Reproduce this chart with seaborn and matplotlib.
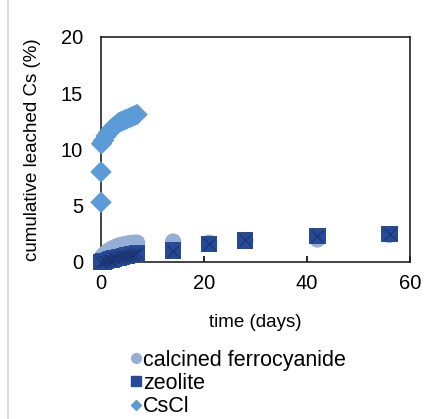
import numpy as np
import pandas as pd
import seaborn as sns
import matplotlib.pyplot as plt
from matplotlib.lines import Line2D

# data
ferro_t = [0, 0.5, 1, 1.5, 2, 2.5, 3, 3.5, 4, 4.5, 5, 5.5, 6, 6.5, 7, 14, 21, 28, 42, 56]
ferro_v = [0.3, 0.6, 0.8, 1.0, 1.15, 1.25, 1.35, 1.45, 1.5, 1.55, 1.6, 1.65, 1.65, 1.7, 1.7, 1.8, 1.7, 1.9, 2.0, 2.4]

zeo_t = [0, 0.5, 1, 1.5, 2, 2.5, 3, 3.5, 4, 4.5, 5, 5.5, 6, 6.5, 7, 14, 21, 28, 42, 56]
zeo_v = [0.0, 0.05, 0.1, 0.15, 0.2, 0.3, 0.35, 0.4, 0.45, 0.5, 0.55, 0.6, 0.65, 0.7, 0.8, 1.0, 1.6, 1.9, 2.3, 2.5]

cscl_t = [0, 0, 0.1, 0.5, 1, 1.5, 2, 2.5, 3, 3.5, 4, 4.5, 5, 5.5, 6, 6.5, 7]
cscl_v = [5.3, 8.0, 10.5, 10.8, 11.2, 11.5, 11.8, 12.0, 12.2, 12.4, 12.5, 12.6, 12.7, 12.8, 12.9, 13.0, 13.1]

c_ferro = '#94aed6'
c_zeo = '#274a96'
c_cscl = '#5b9bd8'

plt.rcParams['font.family'] = ['Liberation Sans', 'DejaVu Sans']

fig = plt.figure(figsize=(4.41, 4.19), dpi=100)
ax = fig.add_axes([0.229, 0.375, 0.701, 0.537])

sns.scatterplot(x=ferro_t, y=ferro_v, ax=ax, color=c_ferro, marker='o', s=140,
                edgecolor='none', clip_on=False, zorder=3)
sns.scatterplot(x=zeo_t, y=zeo_v, ax=ax, color=c_zeo, marker='s', s=140,
                edgecolor='none', clip_on=False, zorder=4)
sns.scatterplot(x=zeo_t, y=zeo_v, ax=ax, color='#1a3270', marker='x', s=70,
                linewidth=0.8, clip_on=False, zorder=5)
sns.scatterplot(x=cscl_t, y=cscl_v, ax=ax, color=c_cscl, marker='D', s=120,
                edgecolor='none', clip_on=False, zorder=6)

ax.set_xlim(0, 60)
ax.set_ylim(0, 20)
ax.set_xticks([0, 20, 40, 60])
ax.set_yticks([0, 5, 10, 15, 20])
ax.tick_params(axis='x', direction='in', length=4, width=1.2, labelsize=14.5, pad=9)
ax.tick_params(axis='y', length=0, labelsize=14.5, pad=13)
for sp in ax.spines.values():
    sp.set_linewidth(1.2)
    sp.set_color('#222222')
ax.set_xlabel('time (days)', fontsize=13.5, labelpad=15)
ax.set_ylabel('cumulative leached Cs (%)', fontsize=13.5, labelpad=14)

handles = [
    Line2D([], [], ls='none', marker='o', color=c_ferro, markersize=7),
    Line2D([], [], ls='none', marker='s', color=c_zeo, markersize=7),
    Line2D([], [], ls='none', marker='D', color=c_cscl, markersize=5.5),
]
fig.legend(handles, ['calcined ferrocyanide', 'zeolite', 'CsCl'],
           loc='upper left', bbox_to_anchor=(0.297, 0.165), frameon=False,
           fontsize=15.5, handlelength=0.5, handletextpad=0.05, labelspacing=0.1,
           borderaxespad=0, borderpad=0)

fig.add_artist(Line2D([0.018, 0.018], [0.0, 1.0], color='#d5d5d5', lw=1.2))

fig.savefig('out.png', dpi=100)
